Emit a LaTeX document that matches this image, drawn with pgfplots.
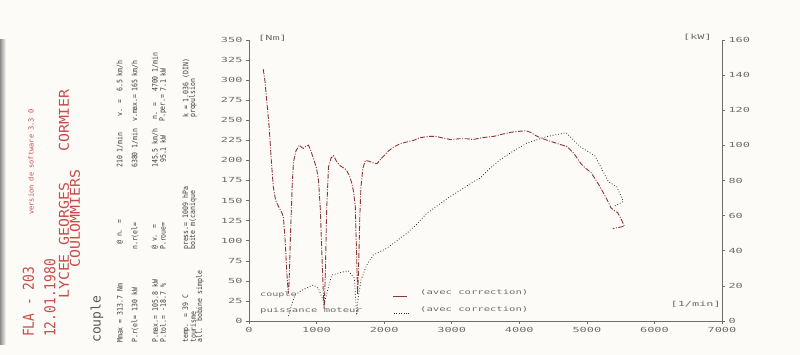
\documentclass[border=0pt]{standalone}
\usepackage{fontspec}
\usepackage{pgfplots}
\pgfplotsset{compat=1.18}
\setmainfont{DejaVu Sans Mono}
\newfontfamily\tickfont[FakeStretch=1.7]{DejaVu Sans Mono}
\newfontfamily\hdrfont[FakeStretch=0.86]{DejaVu Sans Mono}
\newfontfamily\hdrfontb[FakeStretch=1.1]{DejaVu Sans Mono}
\newfontfamily\legfont[FakeStretch=1.6]{DejaVu Sans Mono}
\newfontfamily\parfont[FakeStretch=0.87]{DejaVu Sans Mono}
\definecolor{torq}{RGB}{140,55,55}
\definecolor{hdr}{RGB}{200,75,75}
\definecolor{txt}{RGB}{60,60,60}
\definecolor{tickc}{RGB}{110,110,110}
\definecolor{bg}{RGB}{253,251,247}
\newcommand{\tf}{\tickfont\fontsize{7}{7}\selectfont}
\newcommand{\pf}{\parfont\fontsize{7.5}{7.5}\selectfont}
\newcommand{\R}[3]{\node[rotate=90,anchor=west,inner sep=0pt,text=txt] at (#1,#2) {\pf #3};}
\begin{document}
\begin{tikzpicture}
\useasboundingbox[fill=bg] (-249pt,-34pt) rectangle (551pt,321pt);
\fill[left color=black!45, right color=bg] (-249pt,-24pt) rectangle (-243pt,281pt);
\begin{axis}[
  at={(0pt,0pt)}, anchor=south west,
  scale only axis, width=473pt, height=281pt,
  xmin=0, xmax=7000, ymin=0, ymax=350,
  axis x line*=bottom, axis y line*=left,
  axis line style={-, draw=tickc, line width=0.6pt},
  xtick={0,1000,...,7000}, ytick={0,25,...,350},
  tick align=outside, major tick length=3pt,
  tick style={draw=tickc, line width=0.5pt},
  tick label style={font=\tf, text=tickc},
  /pgf/number format/1000 sep={},
  /pgf/number format/assume math mode=true,
  clip=false,
]
\addplot[torq, line width=0.9pt, dash pattern=on 5pt off 1.5pt on 1pt off 1.5pt] coordinates {
(210,313.7) (235,300) (262,275) (300,240) (330,200) (360,167) (395,150) (435,143)
(485,135) (509,130) (535,100) (560,60) (582,34) (592,45) (615,110) (640,170)
(658,198) (695,212) (747,219) (780,216) (806,215) (845,218) (880,219) (915,212)
(964,200) (1000,190) (1029,175) (1055,140) (1080,80) (1105,25) (1113,15) (1130,60)
(1150,140) (1177,192) (1215,203) (1251,206) (1301,198) (1355,193) (1415,190) (1449,187)
(1490,180) (1523,171) (1550,160) (1573,142) (1590,90) (1607,33) (1620,60) (1640,130)
(1657,167) (1685,190) (1721,200) (1775,199) (1835,197) (1894,196) (1965,203) (2067,212)
(2145,217) (2241,221) (2335,223) (2438,225) (2515,228) (2586,229) (2665,230) (2760,230)
(2865,228) (2982,226) (3115,227) (3230,227) (3315,226) (3428,228) (3515,229) (3625,230)
(3715,232) (3873,235) (3965,236) (4095,237) (4165,235) (4243,231) (4315,228) (4417,225)
(4565,221) (4713,217) (4815,208) (4911,196) (4985,190) (5060,185) (5115,178) (5183,169)
(5235,161) (5282,154) (5356,141) (5415,137) (5455,135) (5495,129) (5529,123) (5554,118)
(5383,115)
};
\end{axis}
\begin{axis}[
  at={(0pt,0pt)}, anchor=south west,
  scale only axis, width=473pt, height=281pt,
  xmin=0, xmax=7000, ymin=0, ymax=160,
  axis x line=none, axis y line*=right,
  axis line style={-, draw=tickc, line width=0.6pt},
  ytick={0,20,...,160},
  tick align=outside, major tick length=3pt,
  tick style={draw=tickc, line width=0.5pt},
  tick label style={font=\tf, text=tickc},
  /pgf/number format/assume math mode=true,
  clip=false,
]
\addplot[black!80, line width=0.8pt, dash pattern=on 0.8pt off 2pt] coordinates {
(582,2.8) (632,9.1) (681,14.8) (804,18) (952,20.5) (1026,18.6) (1085,12.9) (1115,10)
(1165,17.7) (1224,26.2) (1347,27.5) (1470,28.6) (1559,24.3) (1594,3.4) (1618,13.8)
(1658,23.3) (1742,31.9) (1840,37.6) (2038,41.4) (2200,46) (2334,49.9) (2480,55)
(2630,61.3) (2800,66) (2975,70.8) (3150,75) (3320,79.3) (3419,81.3) (3567,87)
(3715,91.7) (3900,96.5) (4110,101.2) (4406,105) (4692,107.2) (4899,99.3) (5121,94)
(5318,79.3) (5442,76.5) (5540,68) (5392,65.1)
};
\end{axis}
\begin{scope}[shift={(-249pt,321pt)}, x=1pt, y=-1pt]
% unit labels
\node[anchor=west,inner sep=0pt,text=tickc] at (258,38) {\tf [Nm]};
\node[anchor=east,inner sep=0pt,text=tickc] at (712,37) {\tf [kW]};
\node[anchor=east,inner sep=0pt,text=tickc] at (721,304) {\tf [1/min]};
% legend
\node[anchor=west,inner sep=0pt,text=tickc] at (260,295) {\legfont\fontsize{6.3}{6.3}\selectfont couple};
\node[anchor=west,inner sep=0pt,text=tickc] at (260,311) {\legfont\fontsize{6.6}{6.6}\selectfont puissance moteur};
\node[anchor=west,inner sep=0pt,text=tickc] at (420,292) {\legfont\fontsize{6.6}{6.6}\selectfont (avec correction)};
\node[anchor=west,inner sep=0pt,text=tickc] at (420,309) {\legfont\fontsize{6.6}{6.6}\selectfont (avec correction)};
\draw[torq, line width=1pt] (393,297) -- (407,297);
\draw[black!80, line width=0.8pt, dash pattern=on 0.8pt off 1.6pt] (394,313) -- (410,313);
% header block
\node[rotate=90,anchor=west,inner sep=0pt,text=hdr] at (28.5,337) {\hdrfont\fontsize{15}{15}\selectfont FLA - 203};
\node[rotate=90,anchor=west,inner sep=0pt,text=hdr] at (31,215) {\fontsize{7}{7}\selectfont version de software 3.3 0};
\node[rotate=90,anchor=west,inner sep=0pt,text=hdr] at (50,337) {\hdrfont\fontsize{15}{15}\selectfont 12.01.1980};
\node[rotate=90,anchor=west,inner sep=0pt,text=hdr] at (64,299) {\hdrfontb\fontsize{13.5}{13.5}\selectfont LYCEE GEORGES};
\node[rotate=90,anchor=west,inner sep=0pt,text=hdr] at (64,152) {\hdrfontb\fontsize{13.5}{13.5}\selectfont CORMIER};
\node[rotate=90,anchor=west,inner sep=0pt,text=hdr] at (75,268) {\hdrfontb\fontsize{13.5}{13.5}\selectfont COULOMMIERS};
\node[rotate=90,anchor=west,inner sep=0pt,text=black!65] at (97,343) {\fontsize{13}{13}\selectfont couple};
% parameter rows
\R{120}{343}{Mmax  = 313.7 Nm}
\R{120}{245}{@ n. =}
\R{120}{168}{210 1/min}
\R{120}{117}{v. =}
\R{120}{92}{6.5 km/h}
\R{135}{343}{P.r(el=   130 kW}
\R{135}{250}{n.r(el=}
\R{135}{168}{6380 1/min}
\R{135}{122}{v.max.=}
\R{135}{92}{165 km/h}
\R{155}{343}{P.max.= 105.8 kW}
\R{155}{250}{@ v. =}
\R{155}{168}{145.5 km/h}
\R{155}{120}{n.  =}
\R{155}{92}{4700 1/min}
\R{163}{343}{P.tol.= -18.7 \%}
\R{163}{250}{P.roue=}
\R{163}{163}{95.1 kW}
\R{163}{122}{P.per.=}
\R{163}{92}{7.1 kW}
\R{186}{343}{temp. =   39  C}
\R{186}{250}{press.= 1009   hPa}
\R{186}{118}{k   = 1.036 (DIN)}
\R{193}{343}{tourisme}
\R{193}{250}{boite m(canique}
\R{193}{118}{propulsion}
\R{200}{343}{all. bobine simple}
\end{scope}
\end{tikzpicture}
\end{document}
